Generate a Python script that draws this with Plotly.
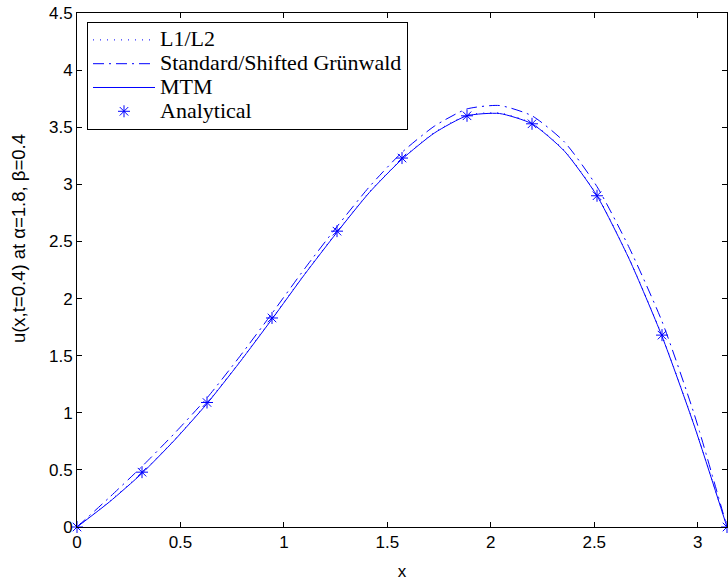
import numpy as np
import plotly.graph_objects as go

# x grid for the numerical schemes (k*pi/20)
x_num = [k * np.pi / 20 for k in range(21)]

mtm = [0.0, 0.22, 0.47, 0.76, 1.08, 1.44, 1.82, 2.21, 2.58, 2.93, 3.22,
       3.45, 3.60, 3.62, 3.53, 3.29, 2.90, 2.34, 1.67, 0.88, 0.0]
l1l2 = [0.0, 0.225, 0.475, 0.765, 1.085, 1.445, 1.825, 2.215, 2.585, 2.935, 3.225,
        3.455, 3.605, 3.625, 3.535, 3.295, 2.905, 2.345, 1.675, 0.885, 0.0]
grunwald = [0.0, 0.26, 0.53, 0.82, 1.13, 1.49, 1.87, 2.26, 2.63, 2.98, 3.28,
            3.51, 3.66, 3.69, 3.60, 3.37, 2.98, 2.44, 1.80, 0.98, 0.0]

# analytical points at k*pi/10
x_exact = [k * np.pi / 10 for k in range(11)]
exact = [0.0, 0.48, 1.09, 1.83, 2.59, 3.23, 3.60, 3.53, 2.90, 1.68, 0.0]

x_ticks = [0, 0.5, 1, 1.5, 2, 2.5, 3]
y_ticks = [0, 0.5, 1, 1.5, 2, 2.5, 3, 3.5, 4, 4.5]

series_names = ["L1/L2", "Standard/Shifted Grünwald", "MTM", "Analytical"]

blue = "rgb(0,0,255)"


def big(s):
    return "<span style='font-size:22px'>" + s + "</span>"


fig = go.Figure()
fig.add_trace(go.Scatter(x=x_num, y=l1l2, mode="lines", name=big(series_names[0]),
                         line=dict(color=blue, width=1, dash="1px,6px", shape="spline",
                                   smoothing=0.6),
                         cliponaxis=False))
fig.add_trace(go.Scatter(x=x_num, y=grunwald, mode="lines",
                         name=big(series_names[1]),
                         line=dict(color=blue, width=1, dash="11px,5px,2px,5px",
                                   shape="spline", smoothing=0.6),
                         cliponaxis=False))
fig.add_trace(go.Scatter(x=x_num, y=mtm, mode="lines", name=big(series_names[2]),
                         line=dict(color=blue, width=1, shape="spline", smoothing=0.6),
                         cliponaxis=False))
fig.add_trace(go.Scatter(x=x_exact, y=exact, mode="markers", name=big(series_names[3]),
                         marker=dict(symbol="asterisk-open", size=10, color=blue,
                                     line=dict(color=blue, width=1)),
                         cliponaxis=False))

axis_common = dict(showline=True, linecolor="black", linewidth=1, mirror="ticks",
                   ticks="inside", ticklen=5, tickcolor="black", showgrid=False,
                   zeroline=False, tickfont=dict(family="Liberation Sans", size=17,
                                                 color="black"))

fig.update_layout(
    width=728, height=581,
    margin=dict(l=77, r=1, t=13, b=54),
    paper_bgcolor="white", plot_bgcolor="white",
    xaxis=dict(range=[0, np.pi], tickvals=x_ticks,
               ticktext=[str(t) for t in x_ticks],
               title=dict(text="x", font=dict(family="Liberation Sans", size=17,
                                              color="black"), standoff=13),
               **axis_common),
    yaxis=dict(range=[0, 4.5], tickvals=y_ticks,
               ticktext=[str(t) for t in y_ticks],
               **axis_common),
    annotations=[dict(text="u(x,t=0.4) at α=1.8, β=0.4", textangle=-90,
                      xref="paper", yref="paper", x=-0.0908, y=0.562,
                      xanchor="center", yanchor="middle", showarrow=False,
                      font=dict(family="Liberation Sans", size=18.5, color="black"))],
    legend=dict(x=0.0154, y=0.9825, xanchor="left", yanchor="top",
                bgcolor="white", bordercolor="black", borderwidth=1,
                font=dict(family="Liberation Serif", size=16, color="black"),
                itemwidth=62, tracegroupgap=0),
    showlegend=True,
)

fig.write_html("out.html")
